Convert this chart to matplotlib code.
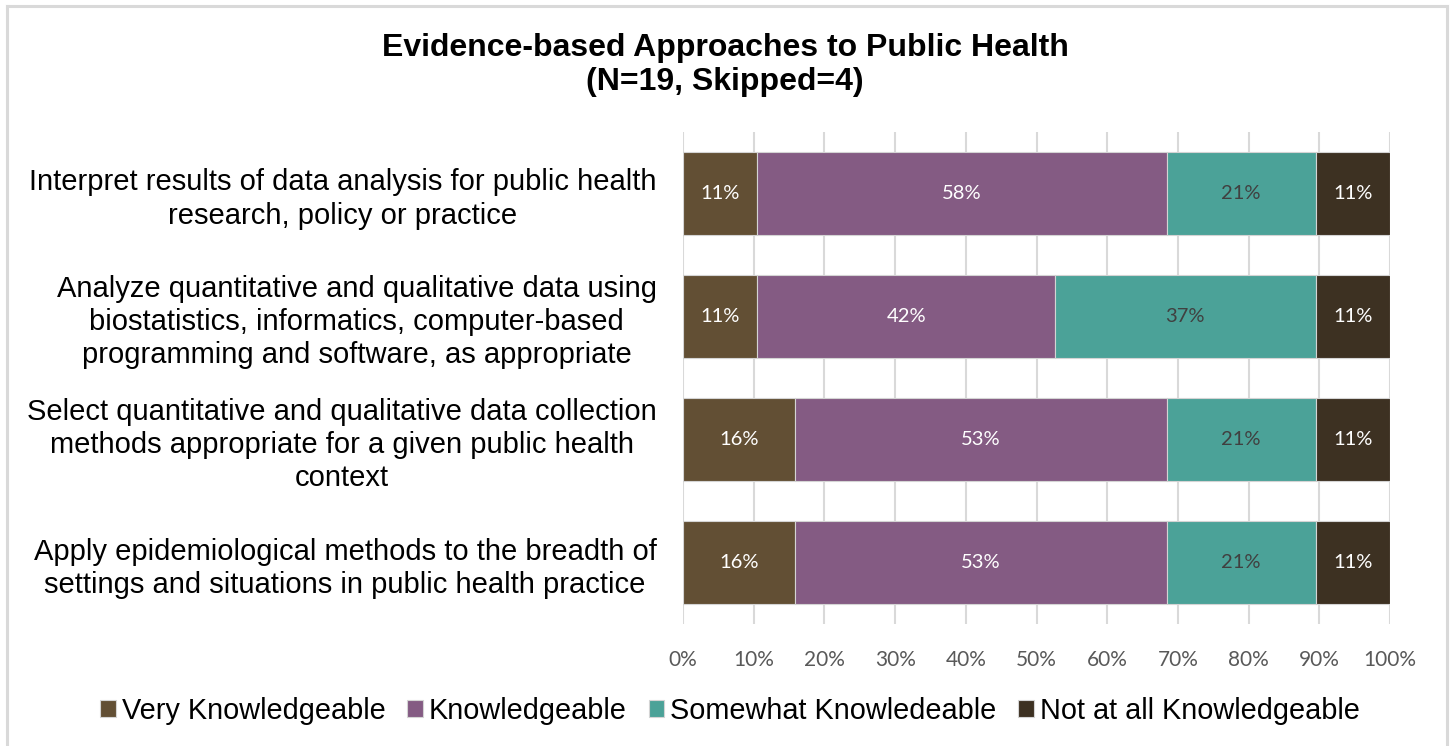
import matplotlib
matplotlib.use("Agg")
import matplotlib.pyplot as plt
from matplotlib.lines import Line2D
import numpy as np

# Survey data: respondent counts per competency (N=19)
categories = [
    "Interpret results of data analysis for public health\nresearch, policy or practice",
    "Analyze quantitative and qualitative data using\nbiostatistics, informatics, computer-based\nprogramming and software, as appropriate",
    "Select quantitative and qualitative data collection\nmethods appropriate for a given public health\ncontext",
    "Apply epidemiological methods to the breadth of\nsettings and situations in public health practice",
]
n_respondents = 19
very_knowledgeable = [2, 2, 3, 3]
knowledgeable = [11, 8, 10, 10]
somewhat_knowledgeable = [4, 7, 4, 4]
not_knowledgeable = [2, 2, 2, 2]

series_names = ["Very Knowledgeable", "Knowledgeable",
                "Somewhat Knowledeable", "Not at all Knowledgeable"]
series_colors = ["#624F34", "#845B83", "#4BA298", "#3D3122"]
label_colors = ["white", "white", "#404040", "white"]
x_ticks = [0, 10, 20, 30, 40, 50, 60, 70, 80, 90, 100]

fig = plt.figure(figsize=(14.5, 7.46), dpi=100)
ax = fig.add_axes([683 / 1450, 122 / 746, 707 / 1450, 492 / 746])

series = [very_knowledgeable, knowledgeable, somewhat_knowledgeable, not_knowledgeable]
y = np.arange(len(categories))
left = np.zeros(len(categories))
for counts, name, color, lc in zip(series, series_names, series_colors, label_colors):
    pct = np.array(counts) / n_respondents * 100
    ax.barh(y, pct, left=left, height=0.667, color=color,
            edgecolor="#d4d4d4", linewidth=0.8, label=name, zorder=3)
    for yi, l, p in zip(y, left, pct):
        ax.text(l + p / 2, yi, f"{round(p)}%", ha="center", va="center",
                color=lc, fontsize=14.5, family=["Lato", "DejaVu Sans"], zorder=4)
    left += pct

ax.set_xlim(0, 100)
ax.set_ylim(len(categories) - 0.5, -0.5)
ax.set_xticks(x_ticks)
ax.set_xticklabels([f"{t}%" for t in x_ticks], fontsize=15,
                   family=["Lato", "DejaVu Sans"], color="#595959")
ax.set_yticks(y)
ax.set_yticklabels(categories, fontsize=21, family=["Liberation Sans", "DejaVu Sans"],
                   ha="right", multialignment="center", linespacing=1.23)
ax.tick_params(axis="x", length=0, pad=19)
ax.tick_params(axis="y", length=0, pad=19)
ax.grid(axis="x", color="#d9d9d9", linewidth=1.5, zorder=0)
for s in ax.spines.values():
    s.set_visible(False)

fig.text(0.5, 1 - 65 / 746, "Evidence-based Approaches to Public Health\n(N=19, Skipped=4)",
         ha="center", va="center", fontsize=23, fontweight="bold",
         family=["Liberation Sans", "DejaVu Sans"], linespacing=1.2)

fig.legend(loc="center", bbox_to_anchor=(730 / 1450, 1 - 711 / 746), ncol=4,
           frameon=False, handlelength=0.55, handleheight=0.55, handletextpad=0.2,
           columnspacing=0.75, prop={"family": ["Liberation Sans", "DejaVu Sans"], "size": 20.8})

# Chart frame
border = dict(color="#d9d9d9", linewidth=2.2, transform=fig.transFigure)
fig.add_artist(Line2D([7 / 1450, 7 / 1450], [0, 1 - 6 / 746], **border))
fig.add_artist(Line2D([7 / 1450, 1447 / 1450], [1 - 6 / 746, 1 - 6 / 746], **border))
fig.add_artist(Line2D([1447 / 1450, 1447 / 1450], [0, 1 - 6 / 746], **border))

fig.savefig("out.png", dpi=100, facecolor="white")
